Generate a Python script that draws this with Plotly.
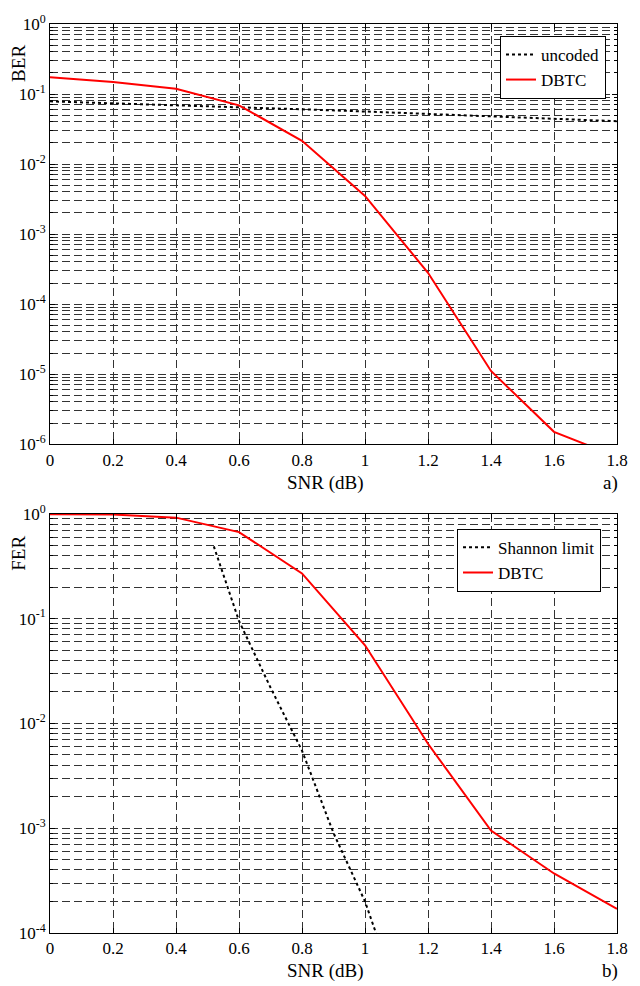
import plotly.graph_objects as go
from plotly.subplots import make_subplots

# ---- data ----
snr = [0, 0.2, 0.4, 0.6, 0.8, 1.0, 1.2, 1.4, 1.6, 1.8]
ber_uncoded = [0.0786, 0.0739, 0.0693, 0.0648, 0.0605, 0.0563, 0.0522, 0.0483, 0.0445, 0.0409]
ber_dbtc = [0.174, 0.148, 0.119, 0.069, 0.0215, 0.0035, 2.8e-4, 1.11e-5, 1.5e-6, 6.6e-7]

fer_dbtc = [0.99, 0.985, 0.92, 0.67, 0.27, 0.0557, 0.0064, 9.5e-4, 3.7e-4, 1.7e-4]
shannon_snr = [0.52, 0.6, 0.7, 0.8, 0.9, 1.0, 1.04]
shannon_fer = [0.49, 0.095, 0.022, 0.0055, 0.0009, 2.0e-4, 9e-5]

x_ticks = [0, 0.2, 0.4, 0.6, 0.8, 1, 1.2, 1.4, 1.6, 1.8]
ber_exp = [-6, -5, -4, -3, -2, -1, 0]
fer_exp = [-4, -3, -2, -1, 0]

FONT = "Liberation Serif"

fig = make_subplots(rows=2, cols=1, vertical_spacing=0.0)

fig.add_trace(go.Scatter(x=snr, y=ber_uncoded, mode="lines", name="uncoded",
                         line=dict(color="black", width=2, dash="dot"),
                         legend="legend"), row=1, col=1)
fig.add_trace(go.Scatter(x=snr, y=ber_dbtc, mode="lines", name="DBTC",
                         line=dict(color="#ff0000", width=2),
                         legend="legend"), row=1, col=1)
fig.add_trace(go.Scatter(x=shannon_snr, y=shannon_fer, mode="lines", name="Shannon limit",
                         line=dict(color="black", width=2, dash="dot"),
                         legend="legend2"), row=2, col=1)
fig.add_trace(go.Scatter(x=snr, y=fer_dbtc, mode="lines", name="DBTC",
                         line=dict(color="#ff0000", width=2),
                         legend="legend2"), row=2, col=1)

grid = dict(showgrid=True, gridcolor="#333333", gridwidth=1, griddash="8px,4px")
common_x = dict(range=[0, 1.8], tickvals=x_ticks, ticktext=[f"{v:g}" for v in x_ticks],
                showline=True, linecolor="black", linewidth=1, mirror="ticks",
                ticks="inside", ticklen=5, tickcolor="black", zeroline=False,
                tickfont=dict(family=FONT, size=17, color="black"), **grid)

fig.update_xaxes(**common_x)

def yaxis_cfg(exps):
    return dict(type="log", range=[exps[0], exps[-1]],
                tickvals=[10 ** e for e in exps],
                ticktext=[f"10<sup>{e}</sup>" for e in exps],
                showline=True, linecolor="black", linewidth=1, mirror="ticks",
                ticks="inside", ticklen=5, tickcolor="black", zeroline=False,
                tickfont=dict(family=FONT, size=17, color="black"),
                minor=dict(dtick="D1", ticks="inside", ticklen=3, tickcolor="black",
                           showgrid=True, gridcolor="#333333", gridwidth=1,
                           griddash="8px,4px"),
                **grid)

fig.update_yaxes(**yaxis_cfg(ber_exp), row=1, col=1)
fig.update_yaxes(**yaxis_cfg(fer_exp), row=2, col=1)

# domains: plot area from y=20 to y=933 (height 913)
fig.update_layout(
    yaxis=dict(domain=[0.5378, 1.0]),
    yaxis2=dict(domain=[0.0, 0.4611]),
)

fig.update_layout(
    width=640, height=986,
    margin=dict(l=50, r=22, t=20, b=53),
    paper_bgcolor="white", plot_bgcolor="white",
    font=dict(family=FONT, color="black"),
    legend=dict(x=0.9806, y=0.9869, xanchor="right", yanchor="top",
                bgcolor="white", bordercolor="black", borderwidth=1,
                font=dict(family=FONT, size=17, color="black"),
                tracegroupgap=0, itemwidth=30),
    legend2=dict(x=0.9718, y=0.4447, xanchor="right", yanchor="top",
                 bgcolor="white", bordercolor="black", borderwidth=1,
                 font=dict(family=FONT, size=17, color="black"),
                 tracegroupgap=0, itemwidth=30),
    showlegend=True,
)

def px_x(px):
    return (px - 50) / 568

def px_y(py):
    return (933 - py) / 913

annots = [
    dict(text="BER", x=px_x(19), y=px_y(60), textangle=-90, size=19),
    dict(text="FER", x=px_x(19), y=px_y(552), textangle=-90, size=19),
    dict(text="SNR (dB)", x=px_x(326), y=px_y(481), size=19),
    dict(text="a)", x=px_x(611), y=px_y(481), size=19),
    dict(text="SNR (dB)", x=px_x(326), y=px_y(971), size=19),
    dict(text="b)", x=px_x(611), y=px_y(971), size=19),
]
for a in annots:
    size = a.pop("size")
    fig.add_annotation(xref="paper", yref="paper", showarrow=False,
                       xanchor="center", yanchor="middle",
                       font=dict(family=FONT, size=size, color="black"), **a)

fig.write_html("out.html")
